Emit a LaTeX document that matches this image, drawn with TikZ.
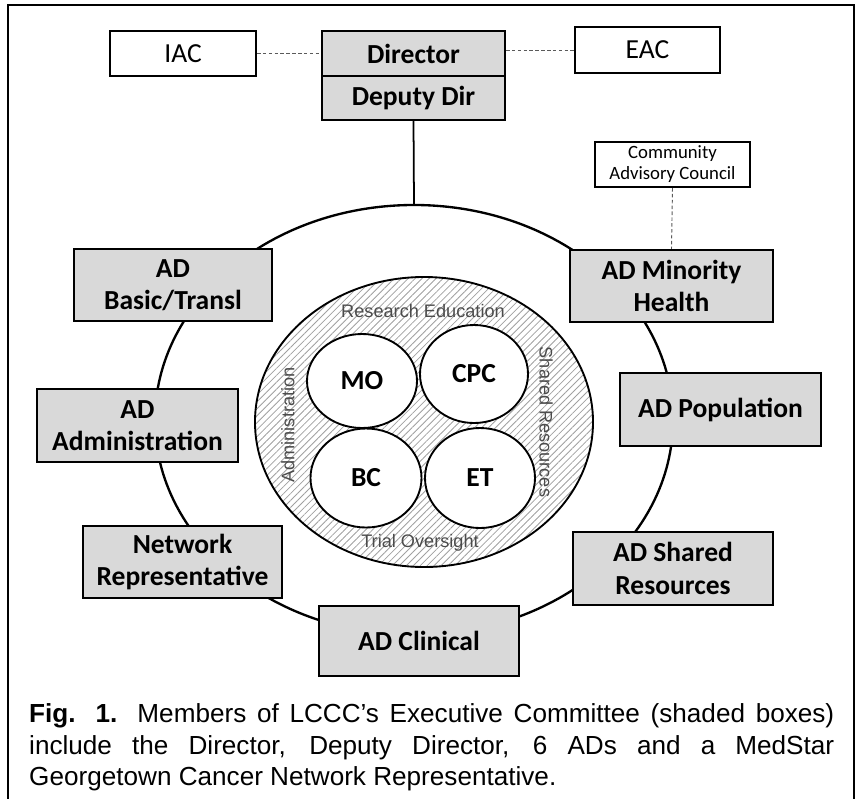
\documentclass[tikz,border=0pt]{standalone}
\usepackage{fontspec}
\setmainfont{Carlito}
\newfontfamily\arialfont{Liberation Sans}
\usetikzlibrary{shapes.geometric, patterns.meta}
\definecolor{boxgray}{RGB}{217,217,217}
\definecolor{hatchgray}{RGB}{160,160,160}
\definecolor{labelgray}{RGB}{75,75,75}
\definecolor{dashgray}{RGB}{90,90,90}

\begin{document}
\begin{tikzpicture}[x=0.03cm, y=-0.03cm,
    ecbox/.style={draw, line width=1.8pt, fill=boxgray, inner sep=0pt, align=center, font=\bfseries\fontsize{23.5}{27.5}\selectfont},
    advbox/.style={draw, line width=1.8pt, fill=white, inner sep=0pt, align=center, font=\fontsize{23.5}{27.5}\selectfont},
    core/.style={ellipse, draw, line width=1.6pt, fill=white, inner sep=0pt, font=\bfseries\fontsize{23.5}{27}\selectfont},
    ringlabel/.style={text=labelgray, inner sep=0pt, font=\arialfont\fontsize{15.5}{18}\selectfont},
    link/.style={dashgray, line width=0.8pt, dash pattern=on 3pt off 2pt}]
    \useasboundingbox (0,0) rectangle (857,798);

    % Frame (open at the bottom)
    \draw[line width=1.5pt] (8,810) -- (8,5) -- (854,5) -- (854,810);

    % Outer ring and the program core
    \node[ellipse, draw, line width=2pt, inner sep=0pt, minimum width=15.54cm, minimum height=12.9cm] (ring) at (414,420) {};
    \node[ellipse, draw, line width=1.6pt, inner sep=0pt, pattern={Lines[angle=45, distance=4.2pt, line width=0.7pt]}, pattern color=hatchgray, minimum width=10.14cm, minimum height=8.7cm] (core) at (424,422) {};
    \node[core, minimum width=3.3cm, minimum height=2.82cm] (mo) at (362,381) {MO};
    \node[core, minimum width=3.24cm, minimum height=2.94cm] (cpc) at (474,374) {CPC};
    \node[core, minimum width=3.33cm, minimum height=2.97cm] (bc) at (366,478) {BC};
    \node[core, minimum width=3.3cm, minimum height=3cm] (et) at (480,478) {ET};

    % Labels on the hatched band
    \node[ringlabel] (educ) at (423,311) {Research Education};
    \node[ringlabel] (trial) at (420,543) {Trial Oversight};
    \node[ringlabel, rotate=90] (admin) at (288,425) {Administration};
    \node[ringlabel, rotate=-90] (shared) at (546,422) {Shared Resources};

    % Director and advisory boards
    \node[ecbox, minimum width=5.49cm, minimum height=1.35cm] (director) at (413.5,53.5) {Director};
    \node[ecbox, minimum width=5.49cm, minimum height=1.32cm] (deputy) at (413.5,98) {Deputy Dir};
    \node[advbox, minimum width=4.38cm, minimum height=1.35cm] (iac) at (183,53.5) {IAC};
    \node[advbox, minimum width=4.35cm, minimum height=1.38cm] (eac) at (647.5,50) {EAC};
    \node[advbox, minimum width=4.65cm, minimum height=1.35cm, font=\fontsize{16}{18}\selectfont] (cac) at (672.5,164.5) {Community\\Advisory Council};

    % Associate directors round the ring
    \node[ecbox, minimum width=5.94cm, minimum height=2.16cm] (basic) at (173,285) {AD\\Basic/Transl};
    \node[ecbox, minimum width=6.09cm, minimum height=2.16cm] (minority) at (671.5,286) {AD Minority\\Health};
    \node[ecbox, minimum width=6.03cm, minimum height=2.19cm] (adadmin) at (137.5,425.5) {AD\\Administration};
    \node[ecbox, minimum width=6.03cm, minimum height=2.19cm] (population) at (720.5,409.5) {AD Population};
    \node[ecbox, minimum width=5.97cm, minimum height=2.16cm] (network) at (182.5,562) {Network\\Representative};
    \node[ecbox, minimum width=6cm, minimum height=2.19cm] (adshared) at (673,568.5) {AD Shared\\Resources};
    \node[ecbox, minimum width=6cm, minimum height=2.1cm] (clinical) at (419,641) {AD Clinical};

    % Connectors
    \draw[line width=1.5pt] (deputy.south) -- (ring.north);
    \draw[link] (iac.east) -- (director.west);
    \draw[link] (director.east |- eac.west) -- (eac.west);
    \draw[link] (cac.south) -- (minority.north);

    % Caption
    \node[anchor=north west, inner sep=0pt, text width=24.15cm, align=justify, font=\arialfont\fontsize{22.3}{27.2}\selectfont] (caption) at (29,703) {\textbf{Fig. 1.} Members of LCCC’s Executive Committee (shaded boxes)\linebreak include the Director, Deputy Director, 6 ADs and a MedStar\linebreak Georgetown Cancer Network Representative.};
\end{tikzpicture}
\end{document}
